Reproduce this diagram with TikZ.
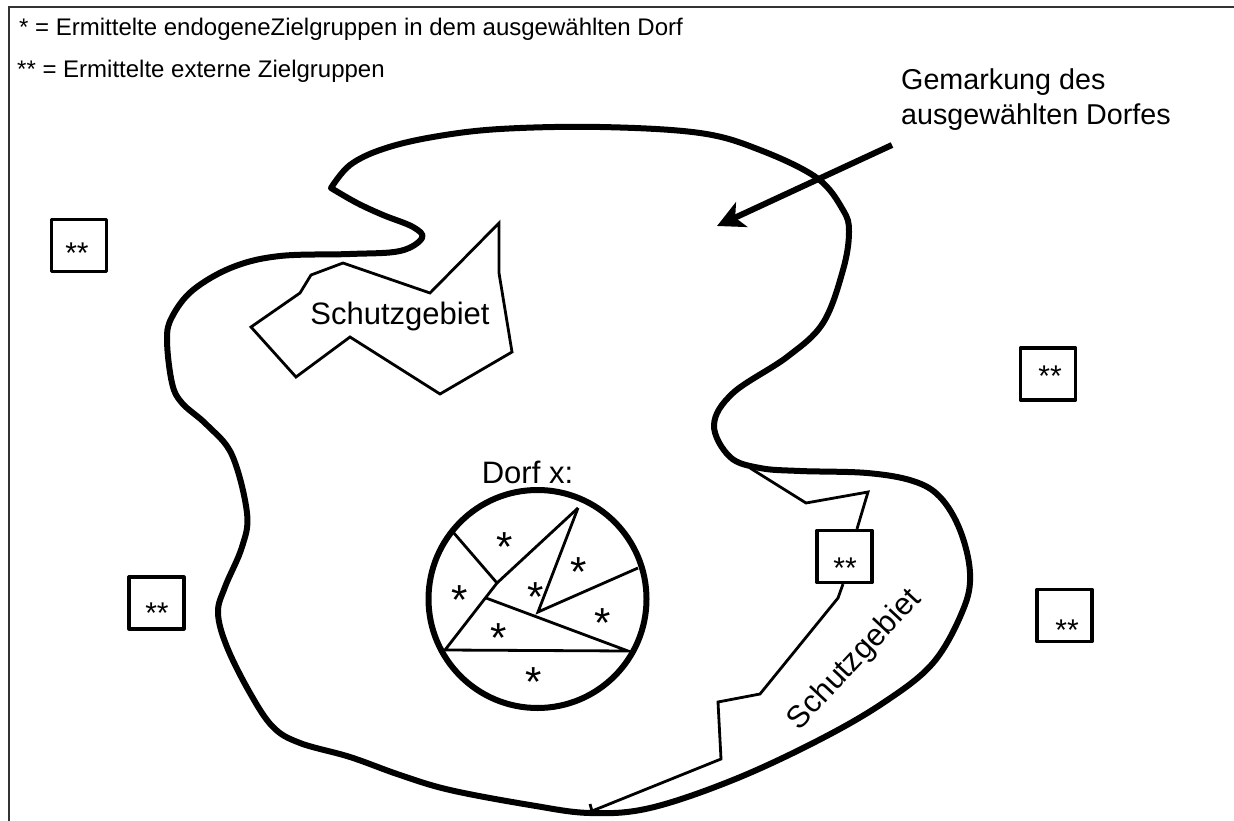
\documentclass[tikz,border=0pt]{standalone}
\usepackage{fontspec}
\setmainfont{Liberation Sans}
\usetikzlibrary{arrows.meta}
\tikzset{
  thickline/.style={line width=6pt,line join=round,line cap=round},
  thinline/.style={line width=2.8pt,line join=miter},
  extbox/.style={draw,line width=3.2pt,minimum width=55pt,minimum height=52pt,inner sep=0pt,line join=round},
  legendtext/.style={anchor=base west,inner sep=0pt,font=\fontsize{24}{28}\selectfont},
  bigtext/.style={anchor=base west,inner sep=0pt,font=\fontsize{28.7}{32}\selectfont},
  areatext/.style={inner sep=0pt,font=\fontsize{31}{34}\selectfont},
  star/.style={inner sep=0pt,font=\fontsize{42}{44}\selectfont},
  boxstar/.style={inner sep=0pt,font=\fontsize{30}{32}\selectfont}
}
\begin{document}
\begin{tikzpicture}[x=1pt,y=-1pt]
\useasboundingbox (0,0) rectangle (1234,821);
\fill[white] (0,0) rectangle (1234,821);
% frame
\draw[line width=1.5pt,black!80] (9,821) -- (9,7) -- (1234,7);
% legend
\node[legendtext] (leg1) at (19,36) {* = Ermittelte endogeneZielgruppen in dem ausgewählten Dorf};
\node[legendtext] (leg2) at (17,78) {** = Ermittelte externe Zielgruppen};
\node[bigtext] (gem1) at (901,90) {Gemarkung des};
\node[bigtext] (gem2) at (901,125) {ausgewählten Dorfes};
% outline
\draw[thickline] plot[smooth,tension=0.6] coordinates {
 (331,188) (350,165) (383,149) (433,137) (500,129) (600,127) (700,133) (760,150) (817,178)
 (843,210) (849,232) (843,270) (823,323) (787,357) (733,393) (714,425) (730,457)
 (760,468) (800,471) (867,473) (913,481) (940,497) (960,530) (970,573) (963,610) (933,663)
 (883,703) (817,741) (733,780) (650,808) (590,813) (530,805) (450,790) (400,775) (350,757)
 (300,743) (273,727) (250,693) (227,647) (218,613) (225,587) (242,547) (247,513) (232,455)
 (207,425) (182,403) (172,383) (167,340) (172,317) (193,290) (233,267) (280,256) (350,254)
 (400,251) (422,238) (413,227) (383,215) (357,203) (331,188)};
% Schutzgebiet polygons
\draw[thinline] (251,327) -- (300,293) -- (311,275) -- (343,263) -- (430,293) -- (499,223)
  -- (499,273) -- (512,352) -- (440,394) -- (350,337) -- (296,377) -- cycle;
\node[areatext] (sg1) at (400,316) {Schutzgebiet};
\node[extbox] (b3) at (844.5,556.5) {};
\coordinate (p0) at (750,468);
\coordinate (p9) at (592,811);
\draw[thinline] (p0) -- (806,503) -- (868,492) -- (b3.north -| 857,530);
\draw[thinline] (b3.south -| 843,583) -- (838,598) -- (760,694) -- (718,702) -- (721,759) -- (p9) -- (590,804);
\node[areatext,rotate=47] (sg2) at (855,660) {Schutzgebiet};
% arrow
\coordinate (arr1) at (892,145);
\coordinate (arr2) at (717,226);
\draw[line width=6pt,-{Stealth[length=27pt,width=27pt,inset=7pt]}] (arr1) -- (arr2);
% boxes
\node[extbox] (b1) at (79,245.5) {};
\node[extbox] (b2) at (1048,374) {};
\node[extbox] (b4) at (1064.5,615.5) {};
\node[extbox] (b5) at (156.5,603) {};
\node[boxstar] (s1) at (77,253) {**};
\node[boxstar] (s2) at (1050,376) {**};
\node[boxstar] (s3) at (845,568) {**};
\node[boxstar] (s4) at (1067,630) {**};
\node[boxstar] (s5) at (157,613) {**};
% village
\node[areatext,anchor=base] (dorf) at (527.5,483) {Dorf x:};
\node[circle,draw,line width=6pt,minimum size=218pt,inner sep=0pt] (village) at (537.5,599) {};
\coordinate (a) at (578,508);
\coordinate (b) at (445,650);
\coordinate (c) at (453,532);
\coordinate (d) at (497,583);
\coordinate (e) at (486,598);
\coordinate (f) at (628,651);
\coordinate (g) at (538,612);
\coordinate (h) at (638,568);
\draw[thinline] (a) -- (d) -- (b) -- (f) -- (e);
\draw[thinline] (c) -- (d);
\draw[thinline] (a) -- (g) -- (h);
\node[star] (t1) at (505,547) {*};
\node[star] (t2) at (460,600) {*};
\node[star] (t3) at (536,597) {*};
\node[star] (t4) at (579,572) {*};
\node[star] (t5) at (603,623) {*};
\node[star] (t6) at (499,638) {*};
\node[star] (t7) at (534,682) {*};
\end{tikzpicture}
\end{document}
